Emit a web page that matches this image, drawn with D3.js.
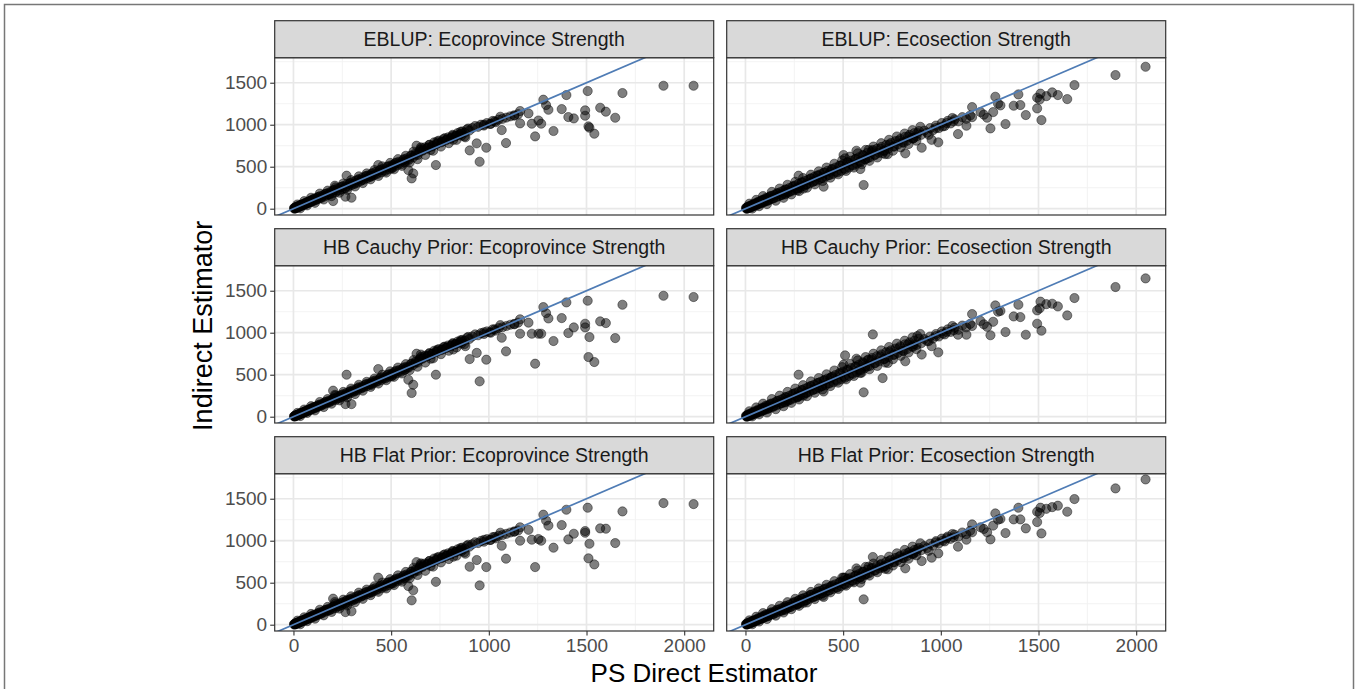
<html>
  <head>
    <title>Direct vs indirect estimators</title>
    <script src="https://d3js.org/d3.v7.min.js"></script>
    <style>
      body { margin: 0; background: #fff; }
      text { font-family: "Liberation Sans", Arial, sans-serif; }
    </style>
  </head>
  <body>
    <svg id="chart" width="1359" height="689"></svg>
    <script>
      // PS direct estimates (shared x across every facet)
      const psDirect = [
        4, 6, 8, 10, 12, 14, 16, 19, 22, 25, 28, 31, 34, 37, 40, 44, 48, 52, 56, 60, 64, 68, 72, 76, 80, 84, 88, 92, 96, 100,
        106, 112, 118, 124, 130, 137, 144, 151, 158, 165, 172, 179, 186, 193, 200, 208, 216, 224, 232, 240, 248, 256, 264, 272, 280, 288, 296, 304, 312, 320, 328, 336, 344, 352, 360, 368, 376, 384, 392, 400,
        410, 420, 430, 440, 450, 460, 470, 480, 490, 500, 510, 520, 530, 540, 550, 560, 570, 580, 590, 600, 612, 624, 636, 648, 660, 672, 684, 696, 708, 720, 732, 744, 756, 768, 780, 792, 804, 816, 828, 840, 852, 864, 876, 888, 900,
        915, 930, 945, 960, 975, 990, 1005, 1020, 1035, 1050, 1070, 1090, 1110, 1130, 1150,
        2048, 1894, 1684, 1647, 1599, 1570, 1540, 1515, 1510, 1506, 1493, 1493, 1435, 1407, 1397, 1373, 1331, 1305, 1293, 1279, 1268, 1254, 1237, 1220, 1203, 1160, 1160, 1131, 1088, 1066, 1059, 1030, 1010, 987, 975, 953, 938, 902, 880, 860, 818, 729, 702, 652, 630, 613, 605, 588, 568, 510, 502, 434, 400, 297, 272, 266, 212, 203,
        20, 35, 55, 70, 90, 110, 135, 155, 175, 195, 215, 235, 255, 275, 295, 315, 335, 355, 375, 395, 415, 435, 455, 475, 495, 515, 535, 555, 575, 595, 615, 635, 655, 675, 695, 715, 735, 755, 775, 795, 815, 835, 855, 875, 895,
        3, 9, 15, 27, 33, 42, 47, 58, 66, 78, 86, 95, 103, 115, 127, 141, 162, 183, 204, 226, 246, 268, 290, 310, 332, 350, 372, 390, 405, 425, 445, 465, 485, 505, 525, 545, 565, 585, 605, 625, 645, 665, 690, 712, 738, 762, 785, 810, 832, 858
      ];

      const eblupProvince = [
        2, 10, 5, 14, 8, 18, 12, 25, 18, 30, 22, 36, 28, 42, 35, 50, 42, 58, 50, 66, 58, 75, 66, 82, 74, 92, 80, 100, 88, 108,
        95, 125, 108, 135, 118, 150, 130, 160, 145, 178, 160, 190, 170, 205, 185, 225, 195, 240, 215, 255, 230, 270, 245, 290, 262, 300, 280, 318, 295, 335, 310, 350, 330, 368, 345, 385, 360, 398, 378, 415,
        395, 438, 415, 455, 432, 478, 450, 500, 470, 515, 490, 540, 515, 560, 530, 578, 550, 600, 580, 630, 610, 660, 640, 700, 690, 730, 720, 760, 740, 790, 770, 810, 790, 830, 815, 850, 835, 870, 860, 900, 885, 920, 905, 945, 930,
        960, 985, 975, 1000, 990, 1020, 1010, 1045, 1030, 1060, 1070, 1085, 1100, 1110, 1125,
        1464, 1464, 1377, 1083, 1155, 1202, 893, 964, 980, 1401, 1171, 1107, 1075, 1091, 1353, 1186, 925, 1178, 1234, 1298, 1012, 1050, 861, 1012, 1135, 1163, 1016, 1110, 782, 936, 1095, 1040, 1010, 726, 1000, 559, 778, 694, 850, 870, 820, 520, 700, 730, 750, 420, 361, 460, 560, 520, 480, 520, 390, 131, 393, 143, 274, 91,
        50, 5, 90, 40, 130, 70, 180, 110, 215, 150, 255, 190, 300, 225, 340, 265, 385, 305, 420, 350, 460, 390, 505, 430, 545, 470, 590, 510, 630, 550, 680, 590, 720, 640, 760, 690, 800, 740, 840, 780, 880, 820, 915, 860, 955,
        8, 2, 22, 20, 40, 35, 55, 52, 75, 70, 95, 88, 115, 108, 140, 132, 175, 176, 218, 218, 262, 260, 305, 300, 350, 342, 390, 385, 425, 418, 465, 460, 505, 500, 548, 545, 590, 585, 635, 640, 680, 700, 730, 750, 780, 800, 825, 850, 870, 895
      ];
      const eblupSection = [
        2, 12, 4, 16, 6, 20, 10, 26, 15, 32, 20, 38, 26, 45, 32, 52, 40, 60, 46, 70, 54, 78, 62, 86, 70, 95, 76, 104, 84, 112,
        90, 128, 100, 140, 112, 155, 122, 168, 138, 182, 150, 198, 162, 212, 178, 228, 190, 245, 205, 262, 222, 278, 238, 296, 252, 312, 270, 330, 285, 345, 300, 362, 318, 378, 332, 395, 348, 410, 365, 428,
        380, 450, 400, 468, 415, 490, 432, 512, 450, 530, 470, 552, 490, 572, 515, 590, 535, 612, 555, 640, 585, 665, 610, 690, 640, 712, 665, 735, 690, 760, 715, 782, 740, 805, 765, 830, 790, 855, 810, 878, 840, 900, 860, 925, 880,
        930, 905, 960, 935, 990, 960, 1020, 985, 1045, 1015, 1065, 1040, 1090, 1070, 1110,
        1690, 1591, 1472, 1305, 1353, 1385, 1340, 1055, 1370, 1300, 1321, 1194, 1115, 1234, 1361, 1226, 1008, 1230, 1250, 1333, 1150, 956, 1083, 1120, 1150, 1210, 1090, 988, 889, 1040, 1080, 1020, 980, 790, 960, 820, 880, 726, 900, 840, 659, 650, 660, 700, 700, 590, 282, 472, 690, 600, 639, 440, 262, 240, 393, 220, 200, 170,
        60, 2, 105, 30, 150, 55, 200, 95, 240, 130, 285, 170, 320, 210, 365, 250, 405, 290, 445, 330, 490, 370, 535, 410, 575, 450, 620, 490, 660, 530, 700, 570, 740, 610, 780, 650, 820, 690, 860, 730, 895, 770, 935, 810, 975,
        10, 0, 28, 15, 45, 30, 62, 45, 85, 62, 105, 80, 125, 98, 150, 125, 185, 165, 228, 205, 270, 245, 315, 288, 358, 328, 398, 368, 430, 402, 472, 442, 512, 482, 552, 522, 592, 562, 632, 602, 672, 642, 715, 690, 765, 740, 812, 785, 858, 835
      ];
      const cauchyProvince = [
        4, 8, 6, 12, 10, 16, 14, 22, 20, 28, 25, 33, 30, 40, 38, 47, 45, 55, 52, 63, 60, 72, 68, 80, 76, 90, 84, 97, 92, 105,
        98, 120, 110, 132, 122, 146, 135, 158, 150, 175, 162, 188, 175, 200, 190, 220, 200, 236, 220, 250, 236, 268, 250, 285, 268, 298, 285, 315, 300, 330, 315, 348, 335, 362, 350, 380, 365, 395, 382, 410,
        400, 432, 418, 450, 436, 472, 455, 495, 475, 512, 495, 535, 518, 555, 535, 575, 555, 595, 585, 625, 615, 655, 645, 695, 690, 725, 720, 755, 745, 785, 775, 805, 795, 828, 818, 848, 840, 868, 862, 895, 885, 915, 905, 940, 925,
        955, 980, 970, 995, 985, 1015, 1005, 1040, 1025, 1055, 1065, 1080, 1095, 1105, 1120,
        1425, 1440, 1333, 936, 1115, 1135, 651, 948, 710, 1381, 1107, 1063, 1063, 996, 1361, 1174, 901, 1170, 1234, 1305, 988, 988, 631, 988, 1120, 1160, 988, 1100, 778, 940, 1090, 1040, 1000, 679, 1005, 421, 760, 686, 840, 870, 800, 500, 690, 740, 750, 381, 282, 440, 560, 515, 480, 567, 380, 150, 500, 150, 260, 310,
        45, 8, 85, 45, 125, 75, 175, 115, 210, 155, 250, 195, 295, 230, 335, 270, 380, 310, 415, 355, 455, 395, 500, 435, 540, 475, 585, 515, 625, 555, 675, 595, 715, 645, 755, 695, 795, 745, 835, 785, 875, 825, 910, 865, 950,
        6, 4, 20, 22, 38, 37, 53, 54, 73, 72, 93, 90, 113, 110, 138, 134, 173, 178, 216, 220, 260, 262, 303, 302, 348, 344, 388, 387, 423, 420, 463, 462, 503, 502, 546, 547, 588, 587, 633, 642, 678, 702, 728, 752, 778, 802, 823, 852, 868, 897
      ];
      const cauchySection = [
        3, 11, 5, 15, 8, 19, 11, 25, 16, 31, 21, 37, 27, 44, 33, 51, 41, 59, 47, 69, 55, 77, 63, 85, 71, 94, 77, 103, 85, 111,
        88, 130, 98, 142, 110, 158, 120, 170, 135, 185, 148, 200, 160, 215, 175, 232, 188, 248, 202, 266, 220, 282, 235, 300, 250, 316, 268, 334, 282, 350, 298, 366, 315, 382, 330, 400, 345, 415, 362, 432,
        375, 455, 395, 472, 410, 495, 428, 518, 445, 535, 465, 558, 485, 578, 510, 595, 530, 618, 550, 648, 580, 672, 605, 698, 635, 720, 660, 742, 685, 768, 710, 790, 735, 812, 760, 838, 785, 862, 805, 885, 835, 905, 855, 930, 875,
        925, 900, 955, 930, 985, 955, 1015, 980, 1040, 1010, 1060, 1035, 1085, 1065, 1105,
        1647, 1544, 1413, 1206, 1313, 1345, 1340, 1024, 1370, 1290, 1266, 1107, 976, 1186, 1333, 1194, 1008, 1260, 1250, 1325, 1130, 970, 1070, 1100, 1140, 1222, 1080, 976, 976, 1030, 1080, 1010, 990, 766, 960, 840, 900, 740, 960, 860, 660, 640, 460, 980, 680, 600, 290, 520, 690, 730, 620, 460, 300, 250, 500, 230, 200, 170,
        65, 4, 110, 28, 155, 50, 210, 90, 250, 125, 295, 165, 335, 205, 375, 245, 420, 285, 460, 325, 505, 365, 550, 405, 590, 445, 630, 485, 670, 525, 710, 565, 750, 605, 790, 645, 830, 685, 870, 725, 905, 765, 945, 805, 985,
        12, 0, 30, 14, 48, 28, 65, 43, 88, 60, 108, 78, 128, 96, 153, 122, 188, 162, 232, 202, 274, 242, 318, 285, 362, 325, 402, 365, 435, 400, 476, 440, 516, 480, 556, 520, 596, 560, 636, 600, 676, 640, 720, 688, 770, 738, 816, 782, 862, 832
      ];
      const flatProvince = [
        3, 9, 7, 13, 9, 17, 15, 23, 19, 29, 24, 34, 31, 41, 37, 48, 44, 56, 53, 64, 59, 73, 69, 81, 75, 91, 85, 98, 91, 106,
        97, 122, 112, 133, 120, 148, 134, 159, 148, 176, 163, 189, 174, 202, 188, 222, 198, 238, 218, 252, 234, 269, 248, 287, 266, 299, 283, 316, 298, 332, 313, 349, 333, 365, 348, 382, 363, 396, 380, 412,
        398, 435, 416, 452, 434, 475, 452, 497, 472, 514, 492, 537, 516, 557, 532, 576, 552, 598, 582, 628, 612, 658, 642, 698, 688, 728, 718, 758, 742, 788, 772, 808, 792, 830, 816, 850, 838, 870, 860, 898, 884, 918, 904, 942, 928,
        958, 982, 972, 998, 988, 1018, 1008, 1042, 1028, 1058, 1068, 1082, 1098, 1108, 1122,
        1436, 1448, 1349, 972, 1143, 1147, 718, 964, 790, 1393, 1115, 1095, 1083, 1016, 1369, 1186, 917, 1180, 1240, 1310, 1000, 1020, 686, 1012, 1130, 1160, 1000, 1110, 786, 940, 1095, 1045, 1010, 686, 1010, 468, 770, 690, 845, 875, 810, 510, 700, 730, 745, 410, 290, 460, 560, 520, 490, 560, 385, 160, 290, 150, 270, 310,
        48, 6, 88, 42, 128, 72, 178, 112, 212, 152, 252, 192, 298, 228, 338, 268, 382, 308, 418, 352, 458, 392, 502, 432, 542, 472, 588, 512, 628, 552, 678, 592, 718, 642, 758, 692, 798, 742, 838, 782, 878, 822, 912, 862, 952,
        7, 3, 21, 21, 39, 36, 54, 53, 74, 71, 94, 89, 114, 109, 139, 133, 174, 177, 217, 219, 261, 261, 304, 301, 349, 343, 389, 386, 424, 419, 464, 461, 504, 501, 547, 546, 589, 586, 634, 641, 679, 701, 729, 751, 779, 801, 824, 851, 869, 896
      ];
      const flatSection = [
        3, 9, 6, 13, 9, 17, 13, 22, 18, 28, 23, 34, 29, 40, 35, 47, 43, 55, 50, 64, 57, 73, 65, 80, 73, 89, 80, 98, 88, 106,
        95, 122, 105, 133, 118, 148, 128, 160, 143, 174, 156, 190, 168, 204, 183, 220, 196, 238, 212, 254, 228, 270, 244, 288, 260, 304, 276, 322, 292, 338, 308, 354, 325, 370, 340, 388, 355, 402, 372, 420,
        390, 440, 408, 458, 425, 480, 442, 502, 460, 520, 480, 542, 500, 562, 522, 582, 542, 602, 565, 630, 592, 655, 618, 680, 645, 702, 670, 725, 695, 750, 720, 772, 745, 795, 770, 820, 795, 845, 818, 868, 845, 890, 868, 915, 888,
        935, 912, 965, 942, 995, 968, 1025, 992, 1050, 1022, 1072, 1048, 1098, 1078, 1118,
        1730, 1623, 1496, 1345, 1417, 1400, 1380, 1087, 1393, 1330, 1345, 1222, 1147, 1254, 1393, 1254, 1091, 1260, 1250, 1325, 1180, 1016, 1100, 1140, 1160, 1194, 1100, 1012, 929, 1040, 1080, 1030, 1000, 849, 980, 798, 880, 758, 900, 850, 671, 660, 680, 806, 690, 600, 302, 500, 670, 560, 560, 450, 330, 260, 290, 240, 205, 175,
        52, 6, 95, 38, 138, 68, 185, 108, 225, 145, 268, 185, 308, 225, 350, 265, 390, 305, 432, 345, 475, 385, 518, 425, 560, 465, 602, 505, 645, 545, 688, 585, 728, 625, 770, 665, 810, 705, 850, 745, 890, 785, 930, 825, 970,
        9, 2, 25, 18, 42, 33, 58, 48, 80, 66, 100, 84, 120, 102, 145, 128, 180, 168, 224, 210, 266, 250, 310, 292, 354, 332, 394, 372, 426, 406, 468, 446, 508, 486, 548, 526, 588, 566, 628, 606, 668, 646, 712, 694, 760, 744, 808, 790, 854, 838
      ];

      const facetTitles = [
        "EBLUP: Ecoprovince Strength", "EBLUP: Ecosection Strength",
        "HB Cauchy Prior: Ecoprovince Strength", "HB Cauchy Prior: Ecosection Strength",
        "HB Flat Prior: Ecoprovince Strength", "HB Flat Prior: Ecosection Strength"
      ];
      const facetValues = [eblupProvince, eblupSection, cauchyProvince, cauchySection, flatProvince, flatSection];
      const xTicks = [0, 500, 1000, 1500, 2000];
      const xMinor = [250, 750, 1250, 1750];
      const yTicks = [0, 500, 1000, 1500];
      const yMinor = [250, 750, 1250, 1750];

      const svg = d3.select("#chart");

      // outer frame of the figure
      svg.append("rect")
        .attr("x", 4.5).attr("y", 4.5)
        .attr("width", 1349).attr("height", 700)
        .attr("fill", "none").attr("stroke", "#777").attr("stroke-width", 1.5);

      const panelW = 439, panelH = 157.3, stripH = 37;
      const colX = [274.7, 726.7];
      const rowY = [57.7, 265.7, 473.7];

      const x = d3.scaleLinear().domain([-96, 2151]).range([0, panelW]);
      const y = d3.scaleLinear().domain([-75, 1798]).range([panelH, 0]);

      svg.append("defs").append("clipPath").attr("id", "panelClip")
        .append("rect").attr("width", panelW).attr("height", panelH);

      facetValues.forEach((vals, i) => {
        const col = i % 2, row = Math.floor(i / 2);
        const g = svg.append("g")
          .attr("transform", "translate(" + colX[col] + "," + rowY[row] + ")");

        // grid
        g.selectAll("line.xminor").data(xMinor).join("line")
          .attr("x1", d => x(d)).attr("x2", d => x(d))
          .attr("y1", 0).attr("y2", panelH)
          .attr("stroke", "#f2f2f2").attr("stroke-width", 0.9);
        g.selectAll("line.yminor").data(yMinor).join("line")
          .attr("y1", d => y(d)).attr("y2", d => y(d))
          .attr("x1", 0).attr("x2", panelW)
          .attr("stroke", "#f2f2f2").attr("stroke-width", 0.9);
        g.selectAll("line.xmajor").data(xTicks).join("line")
          .attr("x1", d => x(d)).attr("x2", d => x(d))
          .attr("y1", 0).attr("y2", panelH)
          .attr("stroke", "#e8e8e8").attr("stroke-width", 1.7);
        g.selectAll("line.ymajor").data(yTicks).join("line")
          .attr("y1", d => y(d)).attr("y2", d => y(d))
          .attr("x1", 0).attr("x2", panelW)
          .attr("stroke", "#e8e8e8").attr("stroke-width", 1.7);

        // points
        const pts = psDirect.map((d, j) => [d, vals[j]]);
        g.append("g").selectAll("circle").data(pts).join("circle")
          .attr("cx", d => x(d[0])).attr("cy", d => y(d[1]))
          .attr("r", 4.6)
          .attr("fill", "rgba(0,0,0,0.5)")
          .attr("stroke", "rgba(0,0,0,0.55)").attr("stroke-width", 0.8);

        // identity line
        g.append("line")
          .attr("clip-path", "url(#panelClip)")
          .attr("x1", x(-200)).attr("y1", y(-200))
          .attr("x2", x(2300)).attr("y2", y(2300))
          .attr("stroke", "#4f7cb5").attr("stroke-width", 1.7);

        // panel border
        g.append("rect").attr("width", panelW).attr("height", panelH)
          .attr("fill", "none").attr("stroke", "#333").attr("stroke-width", 1.2);

        // strip
        g.append("rect").attr("y", -stripH).attr("width", panelW).attr("height", stripH)
          .attr("fill", "#d9d9d9").attr("stroke", "#333").attr("stroke-width", 1.2);
        g.append("text")
          .attr("x", panelW / 2).attr("y", -stripH / 2)
          .attr("dy", "0.35em").attr("text-anchor", "middle")
          .attr("font-size", 19.5).attr("fill", "#1a1a1a")
          .text(facetTitles[i]);

        if (col === 0) {
          const ya = g.append("g")
            .call(d3.axisLeft(y).tickValues(yTicks).tickSize(4.5).tickPadding(3).tickFormat(d3.format("d")));
          ya.select(".domain").remove();
          ya.selectAll(".tick line").attr("stroke", "#333").attr("stroke-width", 1.1);
          ya.selectAll(".tick text").attr("font-size", 19).attr("fill", "#4d4d4d")
            .attr("font-family", "Liberation Sans, Arial, sans-serif");
        }
        if (row === 2) {
          const xa = g.append("g").attr("transform", "translate(0," + panelH + ")")
            .call(d3.axisBottom(x).tickValues(xTicks).tickSize(4.5).tickPadding(3).tickFormat(d3.format("d")));
          xa.select(".domain").remove();
          xa.selectAll(".tick line").attr("stroke", "#333").attr("stroke-width", 1.1);
          xa.selectAll(".tick text").attr("font-size", 19).attr("fill", "#4d4d4d")
            .attr("font-family", "Liberation Sans, Arial, sans-serif");
        }
      });

      // axis titles
      svg.append("text")
        .attr("x", 704).attr("y", 682)
        .attr("text-anchor", "middle").attr("font-size", 26).attr("fill", "#000")
        .text("PS Direct Estimator");
      svg.append("text")
        .attr("transform", "translate(212," + (rowY[0] - stripH + (rowY[2] + panelH - rowY[0] + stripH) / 2) + ") rotate(-90)")
        .attr("text-anchor", "middle").attr("font-size", 27).attr("fill", "#000")
        .text("Indirect Estimator");
    </script>
  </body>
</html>
